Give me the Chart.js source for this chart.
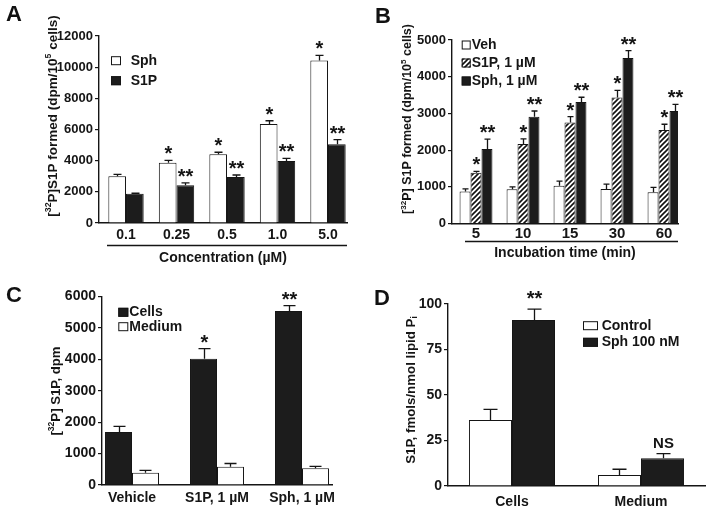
<!DOCTYPE html>
<html>
<head>
<meta charset="utf-8">
<script src="https://cdn.jsdelivr.net/npm/chart.js@4.4.1/dist/chart.umd.min.js"></script>
<style>
  body { margin: 0; background: #fff; }
  #fig { position: relative; width: 714px; height: 515px; overflow: hidden; background: #fff; }
  canvas { position: absolute; }
  .tag { position: absolute; font: bold 22px "Liberation Sans", Arial, sans-serif; line-height: 22px; color: #111; }
</style>
</head>
<body>
<div id="fig">
  <canvas id="chartA" width="357" height="270" style="left:0;top:0"></canvas>
  <canvas id="chartB" width="357" height="270" style="left:357px;top:0"></canvas>
  <canvas id="chartC" width="357" height="255" style="left:0;top:260px"></canvas>
  <canvas id="chartD" width="357" height="255" style="left:357px;top:260px"></canvas>
  <div class="tag" style="left:6px;top:3px">A</div>
  <div class="tag" style="left:375px;top:5px">B</div>
  <div class="tag" style="left:6px;top:284px">C</div>
  <div class="tag" style="left:374px;top:287px">D</div>
</div>
<script>
// panel A: concentration series
const concLabels = ["0.1", "0.25", "0.5", "1.0", "5.0"];
const sphA = [3000, 3870, 4410, 6350, 10420];
const sphAErr = [120, 150, 130, 210, 340];
const s1pA = [1880, 2420, 2950, 3980, 5050];
const s1pAErr = [30, 150, 130, 170, 300];
const sigSphA = ["", "*", "*", "*", "*"];
const sigS1pA = ["", "**", "**", "**", "**"];
const yTicksA = [0, 2000, 4000, 6000, 8000, 10000, 12000];

// panel B: time course
const timeLabels = ["5", "10", "15", "30", "60"];
const vehB = [870, 930, 1030, 940, 850];
const vehBErr = [75, 70, 125, 135, 135];
const s1pB = [1380, 2165, 2755, 3430, 2550];
const s1pBErr = [40, 140, 155, 200, 155];
const sphB = [2030, 2910, 3310, 4510, 3065];
const sphBErr = [270, 155, 130, 200, 180];
const sigS1pB = ["*", "*", "*", "*", "*"];
const sigSphB = ["**", "**", "**", "**", "**"];
const yTicksB = [0, 1000, 2000, 3000, 4000, 5000];

// panel C: cells vs medium
const treatLabels = ["Vehicle", "S1P, 1 µM", "Sph, 1 µM"];
const cellsC = [1690, 4020, 5540];
const cellsCErr = [175, 320, 170];
const mediumC = [390, 580, 530];
const mediumCErr = [75, 105, 65];
const sigCellsC = ["", "*", "**"];
const yTicksC = [0, 1000, 2000, 3000, 4000, 5000, 6000];

// panel D: fmols per nmol lipid Pi
const fracLabels = ["Cells", "Medium"];
const controlD = [36.3, 6.0];
const controlDErr = [5.8, 3.2];
const sphD = [91.2, 15.2];
const sphDErr = [6.0, 2.6];
const sigSphD = ["**", "NS"];
const yTicksD = [0, 25, 50, 75, 100];

const INK = "#151515";
const FONT = '"Liberation Sans", Arial, sans-serif';
Chart.defaults.font.family = FONT;
Chart.defaults.font.weight = "bold";
Chart.defaults.color = INK;

// diagonal hatch for the S1P bars in B
function hatch() {
  const c = document.createElement("canvas");
  c.width = 5; c.height = 5;
  const g = c.getContext("2d");
  g.fillStyle = "#fff"; g.fillRect(0, 0, 5, 5);
  g.strokeStyle = "#111"; g.lineWidth = 1.6;
  g.beginPath();
  g.moveTo(-1, 6); g.lineTo(6, -1);
  g.moveTo(-1, 1); g.lineTo(1, -1);
  g.moveTo(4, 6); g.lineTo(6, 4);
  g.stroke();
  return g.createPattern(c, "repeat");
}

function series(label, data, errors, marks, fill) {
  return { label, data, errors, marks: marks || [], backgroundColor: fill,
           borderColor: INK, borderWidth: 1, borderSkipped: "start" };
}

// let the first/last category sit closer to the axis ends than a full half step
function edges(l, r) {
  return scale => {
    const n = scale.getLabels().length;
    scale._startValue = -l;
    scale._valueRange = (n - 1) + l + r;
  };
}

function drawTitle(ctx, t) {
  ctx.save();
  ctx.translate(t.x, t.y);
  ctx.rotate(-Math.PI / 2);
  ctx.fillStyle = INK;
  ctx.textBaseline = "middle";
  ctx.textAlign = "left";
  const fontFor = p => "bold " + (p[1] ? t.size * 0.65 : t.size) + "px " + FONT;
  let total = 0;
  t.parts.forEach(p => { ctx.font = fontFor(p); total += ctx.measureText(p[0]).width; });
  let x = -total / 2;
  t.parts.forEach(p => {
    ctx.font = fontFor(p);
    const dy = p[1] === "sup" ? -t.size * 0.35 : p[1] === "sub" ? t.size * 0.3 : 0;
    ctx.fillText(p[0], x, dy);
    x += ctx.measureText(p[0]).width;
  });
  ctx.restore();
}

function decor(o) {
  return {
    id: "decor",
    afterDatasetsDraw(chart) {
      const { ctx, scales: { y } } = chart;
      ctx.save();
      chart.data.datasets.forEach((ds, di) => {
        chart.getDatasetMeta(di).data.forEach((el, i) => {
          const err = ds.errors ? ds.errors[i] : 0;
          const top = y.getPixelForValue(ds.data[i] + err);
          const x = Math.round(el.x) + 0.5;
          if (err) {
            ctx.strokeStyle = INK;
            ctx.lineWidth = 1.3;
            ctx.beginPath();
            ctx.moveTo(x, el.y);
            ctx.lineTo(x, top);
            ctx.moveTo(x - o.cap / 2, top);
            ctx.lineTo(x + o.cap / 2, top);
            ctx.stroke();
          }
          const mark = ds.marks[i];
          if (mark) {
            const star = /^\*+$/.test(mark);
            ctx.font = "bold " + (star ? o.starSize : 15) + "px " + FONT;
            ctx.fillStyle = INK;
            ctx.textAlign = "center";
            ctx.textBaseline = "alphabetic";
            ctx.fillText(mark, x, top - (star ? o.starGap : 6));
          }
        });
      });
      ctx.restore();
    },
    afterDraw(chart) {
      const ctx = chart.ctx;
      const L = o.legend;
      ctx.save();
      chart.data.datasets.forEach((ds, i) => {
        const cy = L.y + i * L.dy;
        ctx.fillStyle = ds.backgroundColor;
        ctx.fillRect(L.x, cy - L.h / 2, L.w, L.h);
        ctx.strokeStyle = INK;
        ctx.lineWidth = 1;
        ctx.strokeRect(L.x + 0.5, cy - L.h / 2 + 0.5, L.w - 1, L.h - 1);
        ctx.fillStyle = INK;
        ctx.font = "bold 14px " + FONT;
        ctx.textAlign = "left";
        ctx.textBaseline = "middle";
        ctx.fillText(ds.label, L.x + L.w + L.gap, cy);
      });
      if (o.underline) {
        const a = chart.chartArea;
        const yy = Math.round(a.bottom + o.underline.dy) + 0.5;
        ctx.strokeStyle = INK;
        ctx.lineWidth = 1.3;
        ctx.beginPath();
        ctx.moveTo(a.left + o.underline.inset, yy);
        ctx.lineTo(a.right, yy);
        ctx.stroke();
      }
      ctx.restore();
      drawTitle(ctx, o.yTitle);
    }
  };
}

function panel(id, p) {
  return new Chart(document.getElementById(id), {
    type: "bar",
    data: { labels: p.labels, datasets: p.datasets },
    options: {
      responsive: false,
      animation: false,
      devicePixelRatio: 1,
      layout: { padding: { left: 0, top: p.top, right: p.right, bottom: 0 } },
      datasets: { bar: { categoryPercentage: p.catPct, barPercentage: 1 } },
      plugins: { legend: { display: false }, tooltip: { enabled: false } },
      scales: {
        x: {
          type: "category",
          offset: true,
          afterBuildTicks: edges(p.edges[0], p.edges[1]),
          afterFit: s => { s.height = p.xHeight; },
          grid: { display: false, drawTicks: false },
          border: { display: true, color: INK, width: 1.4 },
          ticks: { font: { size: p.xFont, weight: "bold" }, padding: p.xPad, color: INK, maxRotation: 0, autoSkip: false },
          title: p.xTitle
            ? { display: true, text: p.xTitle, font: { size: 14, weight: "bold" }, color: INK, padding: { top: 0, bottom: p.xTitlePad } }
            : { display: false }
        },
        y: {
          min: p.yTicks[0],
          max: p.yTicks[p.yTicks.length - 1],
          afterFit: s => { s.width = p.yWidth; },
          grid: { display: true, drawOnChartArea: false, drawTicks: true, tickLength: 4, color: INK, lineWidth: 1.2 },
          border: { display: true, color: INK, width: 1.4 },
          ticks: { stepSize: p.yTicks[1] - p.yTicks[0], font: { size: p.yFont, weight: "bold" }, padding: 2, color: INK,
                   callback: v => String(v) }
        }
      }
    },
    plugins: [decor(p)]
  });
}

panel("chartA", {
  labels: concLabels,
  datasets: [
    series("Sph", sphA, sphAErr, sigSphA, "#ffffff"),
    series("S1P", s1pA, s1pAErr, sigS1pA, "#1c1c1c")
  ],
  yTicks: yTicksA, top: 36, right: 10, yWidth: 99, xHeight: 47,
  edges: [0.535, 0.376], catPct: 0.7,
  xFont: 14, xPad: 3.6, yFont: 13, xTitle: "Concentration (µM)", xTitlePad: 3.6,
  cap: 8, starSize: 20, starGap: 0,
  legend: { x: 111, y: 60.7, dy: 20, w: 10, h: 9, gap: 9.7 },
  underline: { dy: 22, inset: 8 },
  yTitle: { x: 53, y: 116, size: 13.5,
            parts: [["[", ""], ["32", "sup"], ["P]S1P formed (dpm/10", ""], ["5", "sup"], [" cells)", ""]] }
});

panel("chartB", {
  labels: timeLabels,
  datasets: [
    series("Veh", vehB, vehBErr, [], "#ffffff"),
    series("S1P, 1 µM", s1pB, s1pBErr, sigS1pB, hatch()),
    series("Sph, 1 µM", sphB, sphBErr, sigSphB, "#1c1c1c")
  ],
  yTicks: yTicksB, top: 40, right: 36, yWidth: 95, xHeight: 46.5,
  edges: [0.511, 0.298], catPct: 0.7,
  xFont: 15, xPad: 1.5, yFont: 13, xTitle: "Incubation time (min)", xTitlePad: 8.6,
  cap: 6, starSize: 20, starGap: 0,
  legend: { x: 104.7, y: 45, dy: 18, w: 9, h: 9, gap: 1 },
  underline: { dy: 17.5, inset: 13 },
  yTitle: { x: 51, y: 119, size: 12.5,
            parts: [["[", ""], ["32", "sup"], ["P] S1P formed (dpm/10", ""], ["5", "sup"], [" cells)", ""]] }
});

panel("chartC", {
  labels: treatLabels,
  datasets: [
    series("Cells", cellsC, cellsCErr, sigCellsC, "#1c1c1c"),
    series("Medium", mediumC, mediumCErr, [], "#ffffff")
  ],
  yTicks: yTicksC, top: 36.5, right: 25, yWidth: 102, xHeight: 30,
  edges: [0.353, 0.353], catPct: 0.635,
  xFont: 14, xPad: 4.6, yFont: 14,
  cap: 12, starSize: 20, starGap: 0,
  legend: { x: 118.3, y: 52.3, dy: 14.4, w: 10, h: 9, gap: 1 },
  yTitle: { x: 56, y: 131, size: 13.2,
            parts: [["[", ""], ["32", "sup"], ["P] S1P, dpm", ""]] }
});

panel("chartD", {
  labels: fracLabels,
  datasets: [
    series("Control", controlD, controlDErr, [], "#ffffff"),
    series("Sph 100 nM", sphD, sphDErr, sigSphD, "#1c1c1c")
  ],
  yTicks: yTicksD, top: 44, right: 9, yWidth: 91, xHeight: 29,
  edges: [0.496, 0.496], catPct: 0.667,
  xFont: 14, xPad: 7.6, yFont: 14,
  cap: 14, starSize: 20, starGap: 4,
  legend: { x: 226, y: 65.7, dy: 16.6, w: 15, h: 9, gap: 3.7 },
  yTitle: { x: 54, y: 130, size: 13.3,
            parts: [["S1P, fmols/nmol lipid P", ""], ["i", "sub"]] }
});
</script>
</body>
</html>
